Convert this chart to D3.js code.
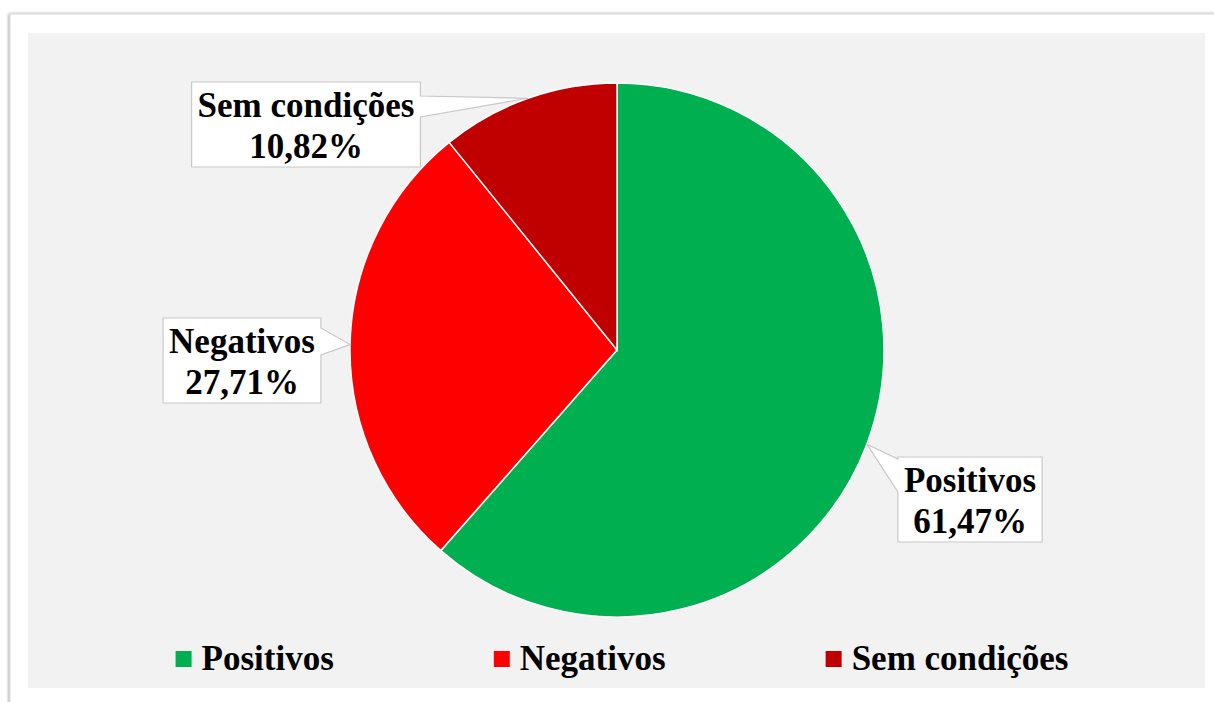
<!DOCTYPE html>
<html>
<head>
<meta charset="utf-8">
<script src="https://cdn.jsdelivr.net/npm/d3@7"></script>
<style>
  html, body { margin: 0; padding: 0; background: #fff; }
  svg { display: block; }
  text { font-family: "Liberation Serif", "Times New Roman", serif; font-weight: bold; fill: #000; }
</style>
</head>
<body>
<div id="chart"></div>
<script>
// data
var categories = ["Positivos", "Negativos", "Sem condições"];
var values = [61.47, 27.71, 10.82];
var valueLabels = ["61,47%", "27,71%", "10,82%"];
var colors = ["#00b050", "#ff0000", "#c00000"];

var W = 1214, H = 702;
var cx = 617, cy = 350, radius = 267;

var svg = d3.select("#chart").append("svg")
    .attr("width", W)
    .attr("height", H);

var defs = svg.append("defs");
var shadow = defs.append("filter").attr("id", "shadow")
    .attr("x", "-5%").attr("y", "-5%").attr("width", "110%").attr("height", "110%");
shadow.append("feDropShadow")
    .attr("dx", -1).attr("dy", 0).attr("stdDeviation", 1.5)
    .attr("flood-color", "#000").attr("flood-opacity", 0.35);

// outer card and plot panel
svg.append("rect")
    .attr("x", 10).attr("y", 14)
    .attr("width", 1230).attr("height", 720)
    .attr("fill", "#fff")
    .attr("stroke", "#d6d6d6")
    .attr("filter", "url(#shadow)");

svg.append("rect")
    .attr("x", 28).attr("y", 33)
    .attr("width", 1177).attr("height", 655)
    .attr("fill", "#f2f2f2");

var data = categories.map(function (c, i) {
    return { name: c, value: values[i], label: valueLabels[i], color: colors[i] };
});

var pie = d3.pie()
    .sort(null)
    .value(function (d) { return d.value; });

var arc = d3.arc().innerRadius(0).outerRadius(radius);
var edgeArc = d3.arc().innerRadius(radius).outerRadius(radius);

var arcs = pie(data);

var g = svg.append("g").attr("transform", "translate(" + cx + "," + cy + ")");

g.selectAll(".slice")
    .data(arcs).enter()
    .append("path")
    .attr("class", "slice")
    .attr("d", arc)
    .attr("fill", function (d) { return d.data.color; })
    .attr("stroke", "#fff")
    .attr("stroke-width", 1.5);

// callout labels (box centre, pointer side, pointer base offsets from box top)
var callouts = [
    { x: 970, top: 457, side: "left", b0: 2, b1: 35 },
    { x: 242, top: 318, side: "right", b0: 10, b1: 37 },
    { x: 306, top: 82, side: "right", b0: 14, b1: 35 }
];

var boxH = 85, fontSize = 35;

arcs.forEach(function (d, i) {
    var c = callouts[i];
    var tip = edgeArc.centroid(d);
    tip = [tip[0] + cx, tip[1] + cy];

    var lg = svg.append("g").attr("class", "callout");

    var t1 = lg.append("text")
        .attr("x", c.x).attr("y", c.top + 35)
        .attr("text-anchor", "middle")
        .style("font-size", fontSize + "px")
        .text(d.data.name);
    var t2 = lg.append("text")
        .attr("x", c.x).attr("y", c.top + 76)
        .attr("text-anchor", "middle")
        .style("font-size", fontSize + "px")
        .text(d.data.label);

    var tw = Math.max(t1.node().getComputedTextLength(), t2.node().getComputedTextLength());
    var bw = tw + 12;
    var x0 = c.x - bw / 2, x1 = c.x + bw / 2, y0 = c.top, y1 = c.top + boxH;

    var p = d3.path();
    if (c.side === "right") {
        p.moveTo(x0, y0); p.lineTo(x1, y0);
        p.lineTo(x1, y0 + c.b0); p.lineTo(tip[0], tip[1]); p.lineTo(x1, y0 + c.b1);
        p.lineTo(x1, y1); p.lineTo(x0, y1); p.closePath();
    } else {
        p.moveTo(x0, y0); p.lineTo(x1, y0); p.lineTo(x1, y1); p.lineTo(x0, y1);
        p.lineTo(x0, y0 + c.b1); p.lineTo(tip[0], tip[1]); p.lineTo(x0, y0 + c.b0);
        p.closePath();
    }

    lg.insert("path", "text")
        .attr("d", p.toString())
        .attr("fill", "#fff")
        .attr("stroke", "#c8c8c8")
        .attr("stroke-width", 1.2);
});

// legend
var legend = svg.append("g").attr("class", "legend");
var legendY = 670, sq = 16, gapIn = 10, gapOut = 160;

var items = legend.selectAll(".item")
    .data(data).enter()
    .append("g")
    .attr("class", "item");

items.append("rect")
    .attr("width", sq).attr("height", sq)
    .attr("y", legendY - 19)
    .attr("fill", function (d) { return d.color; });

items.append("text")
    .attr("y", legendY)
    .style("font-size", fontSize + "px")
    .text(function (d) { return d.name; });

var widths = [];
items.each(function () {
    widths.push(sq + gapIn + d3.select(this).select("text").node().getComputedTextLength());
});
var total = d3.sum(widths) + gapOut * (widths.length - 1);
var xPos = 622 - total / 2;
items.each(function (d, i) {
    var it = d3.select(this);
    it.select("rect").attr("x", xPos);
    it.select("text").attr("x", xPos + sq + gapIn);
    xPos += widths[i] + gapOut;
});
</script>
</body>
</html>
